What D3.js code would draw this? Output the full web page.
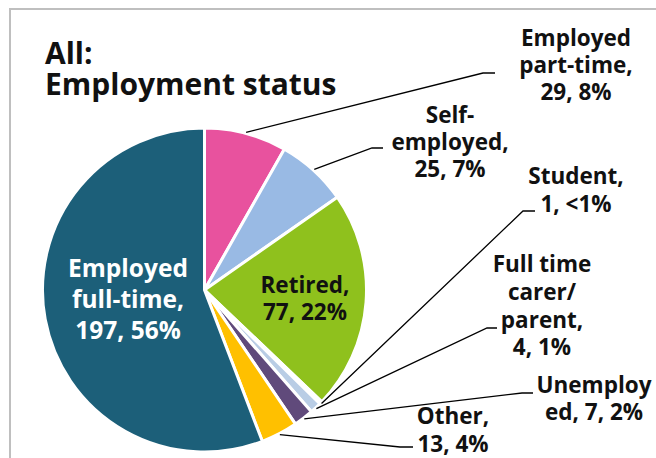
<!DOCTYPE html>
<html>
<head>
<meta charset="utf-8">
<script src="https://cdn.jsdelivr.net/npm/d3@7"></script>
<style>
  html, body { margin: 0; padding: 0; background: #fff; }
  svg { display: block; }
  text { font-family: "Open Sans", "DejaVu Sans", sans-serif; font-weight: 700; }
</style>
</head>
<body>
<svg id="chart" width="656" height="458"></svg>
<script>
// Employment status of all respondents (counts), clockwise from 12 o'clock
const categories = [
  "Employed part-time", "Self-employed", "Retired", "Student",
  "Full time carer/parent", "Unemployed", "Other", "Employed full-time"
];
const counts = [29, 25, 77, 1, 4, 7, 13, 197];
// Category wording as it breaks across lines in each label
const labelNames = [
  "Employed\npart-time,\n", "Self-\nemployed,\n", "Retired,\n", "Student,\n",
  "Full time\ncarer/\nparent,\n", "Unemploy\ned, ", "Other,\n", "Employed\nfull-time,\n"
];
const titleLines = ["All:", "Employment status"];

// Styling
const palette = ["#e8529e", "#99bae4", "#8fc11d", "#c6d9f1", "#b9cde5", "#604a7b", "#ffc000", "#1c5f79"];

// Label placement: centre x, first baseline, line step, font size, colour, leader elbow
const labelLayout = [
  { x: 576, y: 46,  step: 27,   size: 22.5, fill: "#111", elbow: [483, 73],  end: [495, 73] },
  { x: 450, y: 123, step: 27,   size: 22.5, fill: "#111", elbow: [372, 148], end: [383, 148] },
  { x: 305, y: 293, step: 27,   size: 22.5, fill: "#111", elbow: null },
  { x: 576, y: 184, step: 28,   size: 22.5, fill: "#111", elbow: [523, 211], end: [535, 211] },
  { x: 542, y: 272, step: 27.8, size: 22.5, fill: "#111", elbow: [487, 328], end: [497, 328] },
  { x: 594, y: 393, step: 27,   size: 22.5, fill: "#111", elbow: [522, 393], end: [533, 393] },
  { x: 453, y: 424, step: 28,   size: 22.5, fill: "#111", elbow: [400, 447], end: [413, 447] },
  { x: 128, y: 277, step: 31,   size: 24.5, fill: "#fff", elbow: null }
];

const svg = d3.select("#chart");
const W = 656, H = 458;
const cx = 204.5, cy = 290, R = 162;

// Chart frame
svg.append("rect")
  .attr("x", 10).attr("y", 9)
  .attr("width", W + 20).attr("height", H + 20)
  .attr("fill", "#fff")
  .attr("stroke", "#bfbfbf").attr("stroke-width", 2);

const total = d3.sum(counts);
const pctText = v => {
  const p = v / total * 100;
  return p < 1 ? "<1%" : Math.round(p) + "%";
};

const data = categories.map((c, i) => ({ name: c, count: counts[i], i }));
const pie = d3.pie().sort(null).value(d => d.count);
const arcs = pie(data);
const arc = d3.arc().innerRadius(0).outerRadius(R);

const g = svg.append("g").attr("transform", `translate(${cx},${cy})`);

g.selectAll("path.slice")
  .data(arcs)
  .join("path")
  .attr("class", "slice")
  .attr("d", arc)
  .attr("fill", d => palette[d.data.i])
  .attr("stroke", "#fff")
  .attr("stroke-width", 3)
  .attr("stroke-linejoin", "round");

// Leader lines from slice rim to the outside labels
const polar = (a, r) => [cx + r * Math.sin(a), cy - r * Math.cos(a)];
arcs.forEach(d => {
  const L = labelLayout[d.data.i];
  if (!L.elbow) return;
  const mid = (d.startAngle + d.endAngle) / 2;
  const p0 = polar(mid, R + 1);
  svg.append("polyline")
    .attr("points", [p0, L.elbow, L.end].map(p => p.join(",")).join(" "))
    .attr("fill", "none")
    .attr("stroke", "#000")
    .attr("stroke-width", 1.3);
});

// Data labels: name, count, share
arcs.forEach(d => {
  const i = d.data.i;
  const L = labelLayout[i];
  const lines = (labelNames[i] + d.data.count + ", " + pctText(d.data.count)).split("\n");
  const t = svg.append("text")
    .attr("text-anchor", "middle")
    .attr("font-size", L.size)
    .attr("fill", L.fill);
  lines.forEach((ln, k) => {
    t.append("tspan").attr("x", L.x).attr("y", L.y + k * L.step).text(ln);
  });
});

// Title
const title = svg.append("text")
  .attr("font-size", 30)
  .attr("fill", "#111");
titleLines.forEach((ln, k) => {
  title.append("tspan").attr("x", 45).attr("y", 64 + k * 31).text(ln);
});
</script>
</body>
</html>
